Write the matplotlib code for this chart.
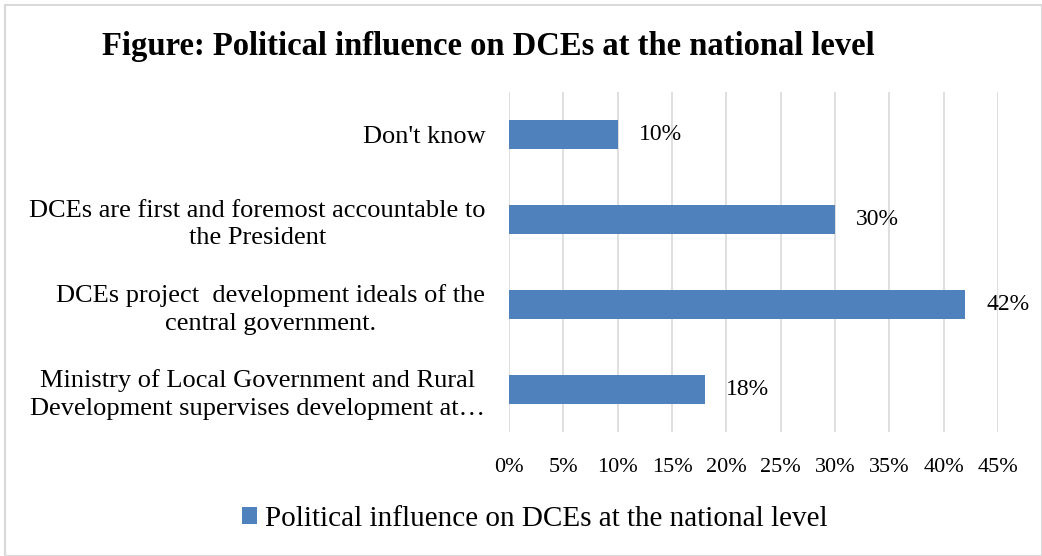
import matplotlib.pyplot as plt
from matplotlib.patches import Rectangle
from matplotlib.ticker import FuncFormatter, MultipleLocator

categories = [
    "Ministry of Local Government and Rural\nDevelopment supervises development at\u2026",
    "DCEs project  development ideals of the\ncentral government.",
    "DCEs are first and foremost accountable to\nthe President",
    "Don't know",
]
values = [18, 42, 30, 10]
series_name = "Political influence on DCEs at the national level"
title = "Figure: Political influence on DCEs at the national level"

bar_color = "#4F81BD"
grid_color = "#D9D9D9"
serif = ["Liberation Serif", "DejaVu Serif"]

plt.rcParams["font.family"] = serif

fig = plt.figure(figsize=(10.42, 5.56), dpi=100)
ax = fig.add_axes([509 / 1042, 1 - 432 / 556, (998 - 509) / 1042, (432 - 92) / 556])

ypos = list(range(len(categories)))
bars = ax.barh(ypos, values, height=0.35, color=bar_color, label=series_name, zorder=3)

ax.set_xlim(0, 45)
ax.set_ylim(-0.5, len(categories) - 0.5)
ax.xaxis.set_major_locator(MultipleLocator(5))
ax.xaxis.set_major_formatter(FuncFormatter(lambda v, _: f"{v:.0f}%"))
ax.grid(axis="x", color=grid_color, linewidth=1.2, zorder=0)
ax.tick_params(axis="both", length=0, colors="black")
ax.tick_params(axis="x", pad=19, labelsize=16)
ax.tick_params(axis="y", pad=17, labelsize=19)
ax.set_yticks(ypos)
ax.set_yticklabels(categories, multialignment="center", linespacing=1.3)
for s in ax.spines.values():
    s.set_visible(False)

for b, v in zip(bars, values):
    ax.annotate(f"{v}%", (b.get_width(), b.get_y() + b.get_height() / 2),
                xytext=(21, 0), textcoords="offset pixels",
                ha="left", va="center", fontsize=17, zorder=4)

fig.text(488 / 1042, 1 - 47 / 556, title, ha="center", va="center",
         fontsize=23.5, fontweight="bold")

fig.legend(handles=[bars], labels=[series_name], loc="center",
           bbox_to_anchor=(535 / 1042, 1 - 519 / 556), frameon=False,
           fontsize=21, handlelength=0.5, handleheight=0.5, handletextpad=0.3)

fig.patches.append(Rectangle((5 / 1042, 0), 1 - 5 / 1042, 1 - 5 / 556,
                             transform=fig.transFigure, fill=False,
                             edgecolor="#D9D9D9", linewidth=1.5))

fig.savefig("out.png", dpi=100, facecolor="white")
